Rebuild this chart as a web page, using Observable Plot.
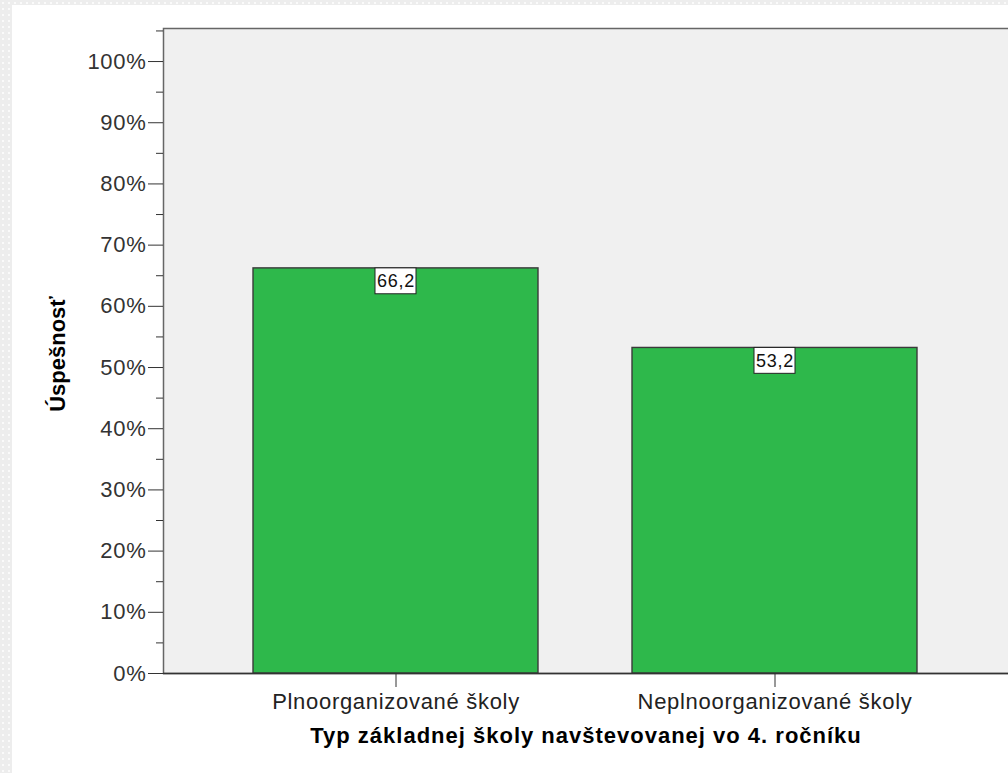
<!DOCTYPE html>
<html>
<head>
<meta charset="utf-8">
<script src="https://cdn.jsdelivr.net/npm/d3@7"></script>
<script src="https://cdn.jsdelivr.net/npm/@observablehq/plot@0.6"></script>
<style>
  html, body { margin: 0; padding: 0; background: #ffffff; overflow: hidden; }
  #chart { position: absolute; left: 0; top: 0; }
  #chart svg text { letter-spacing: 0.7px; }
  #chart svg g[font-weight="bold"] text:not([transform*="rotate"]) { letter-spacing: 1px; }
  #chart svg g[font-weight="bold"] text[transform*="rotate"] { letter-spacing: 0px; }
  .strip { position: absolute; background-color: #ededed;
    background-image: radial-gradient(circle, #fafafa 1px, transparent 1.3px);
    background-size: 6px 6px; }
  #stripTop { left: 0; top: 0; width: 1008px; height: 5px; }
  #stripLeft { left: 0; top: 0; width: 12px; height: 773px; }
</style>
</head>
<body>
<div id="chart"></div>
<div class="strip" id="stripTop"></div>
<div class="strip" id="stripLeft"></div>
<script>
const categories = ["Plnoorganizované školy", "Neplnoorganizované školy"];
const values = [66.2, 53.2];
const yTicks = [0, 10, 20, 30, 40, 50, 60, 70, 80, 90, 100];
const yMinorTicks = [5, 15, 25, 35, 45, 55, 65, 75, 85, 95, 105];
const xTitle = "Typ základnej školy navštevovanej vo 4. ročníku";
const yTitle = "Úspešnosť";

const data = categories.map((c, i) => ({category: c, value: values[i]}));
const font = "'Liberation Sans', Arial, sans-serif";

const chart = Plot.plot({
  width: 1008,
  height: 773,
  marginLeft: 163,
  marginRight: 0,
  marginTop: 28,
  marginBottom: 100,
  style: {fontFamily: font, fontSize: "22px", background: "transparent", overflow: "hidden", color: "#222"},
  x: {domain: categories, paddingInner: 0.247, paddingOuter: 0.237, label: null, axis: null},
  y: {domain: [0, 105.4], label: null, axis: null},
  marks: [
    Plot.frame({fill: "#f0f0f0", stroke: "#666", strokeWidth: 1.5, insetRight: -6}),
    Plot.barY(data, {x: "category", y: "value", fill: "#2eb84b", stroke: "#3a3a3a", strokeWidth: 1.4}),
    Plot.barY(data, {x: "category", y1: d => d.value, y2: d => d.value - 4.23,
      fill: "white", stroke: "#222", strokeWidth: 1, insetLeft: 122, insetRight: 122}),
    Plot.text(data, {x: "category", y: "value", text: d => d.value.toFixed(1).replace(".", ","),
      dy: 13, fontSize: 18, fill: "#111"}),
    Plot.ruleY([0], {stroke: "#333", strokeWidth: 1.5}),
    Plot.axisY(yTicks, {tickSize: 15, tickPadding: 2, tickFormat: d => d + "%", fontSize: 22,
      stroke: "#333", fill: "#333", label: null}),
    Plot.axisY(yMinorTicks, {tickSize: 7, tickFormat: () => "", stroke: "#333", label: null}),
    Plot.axisX({tickSize: 14, tickPadding: 5.5, fontSize: 22, stroke: "#333", fill: "#222", label: null}),
    Plot.text([xTitle], {frameAnchor: "bottom", dy: 69, text: d => d, fontWeight: "bold",
      fontSize: 22, fill: "#000"}),
    Plot.text([yTitle], {frameAnchor: "left", textAnchor: "middle", dx: -106, dy: 3, rotate: -90,
      text: d => d, fontWeight: "bold", fontSize: 22, fill: "#000"})
  ]
});
document.getElementById("chart").appendChild(chart);
</script>
</body>
</html>
